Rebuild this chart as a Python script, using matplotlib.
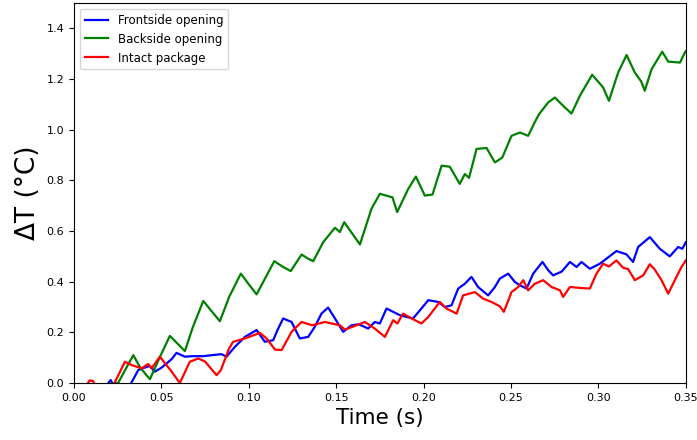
"""
plot.py - temperature rise of the three package variants over the first 0.35 s.

Values are read off the original figure (vertices of the traces).
Output: out.png (697x440)
"""

import matplotlib
matplotlib.use("Agg")
import matplotlib.pyplot as plt  # noqa: E402

# === DATA ===
FRONT_T = [0.0, 0.0187, 0.021, 0.0235, 0.032, 0.0368, 0.040, 0.0435, 0.0463, 0.050,
           0.053, 0.056, 0.0587, 0.0635, 0.068, 0.074, 0.079, 0.0844, 0.0873, 0.0921,
           0.0978, 0.1045, 0.1092, 0.114, 0.1165, 0.1197, 0.1245, 0.1292, 0.134, 0.1378,
           0.1416, 0.1454, 0.1493, 0.154, 0.1588, 0.163, 0.1683, 0.1721, 0.1750, 0.1788,
           0.1826, 0.1864, 0.1902, 0.194, 0.1979, 0.2027, 0.2084, 0.2122, 0.216, 0.2198,
           0.2236, 0.2274, 0.2312, 0.2369, 0.2408, 0.2436, 0.2484, 0.2522, 0.255, 0.2589,
           0.2627, 0.268, 0.2713, 0.2741, 0.279, 0.2837, 0.2875, 0.2903, 0.2951, 0.3008,
           0.3046, 0.3103, 0.316, 0.3198, 0.3227, 0.3294, 0.3351, 0.3408, 0.3456, 0.348,
           0.35]
FRONT_DT = [-0.03, -0.01, 0.012, -0.02, -0.01, 0.051, 0.06, 0.067, 0.045, 0.06,
            0.077, 0.095, 0.119, 0.104, 0.106, 0.106, 0.11, 0.114, 0.104, 0.143,
            0.182, 0.209, 0.163, 0.169, 0.21, 0.255, 0.241, 0.176, 0.182, 0.222,
            0.274, 0.298, 0.255, 0.202, 0.228, 0.232, 0.215, 0.241, 0.235, 0.294,
            0.281, 0.268, 0.261, 0.255, 0.287, 0.327, 0.32, 0.3, 0.307, 0.373,
            0.392, 0.419, 0.379, 0.346, 0.379, 0.412, 0.432, 0.399, 0.386, 0.373,
            0.432, 0.478, 0.445, 0.425, 0.44, 0.478, 0.458, 0.478, 0.451, 0.471,
            0.491, 0.521, 0.508, 0.478, 0.537, 0.576, 0.53, 0.5, 0.537, 0.53,
            0.556]

BACK_T = [0.0, 0.0253, 0.030, 0.034, 0.038, 0.0435, 0.049, 0.0549, 0.0635, 0.068,
          0.074, 0.078, 0.0835, 0.0888, 0.0955, 0.1, 0.1045, 0.1146, 0.1197, 0.124,
          0.1302, 0.134, 0.1369, 0.1426, 0.1493, 0.1521, 0.1546, 0.1636, 0.1702, 0.175,
          0.1822, 0.1849, 0.1912, 0.1956, 0.2007, 0.2051, 0.2103, 0.215, 0.2207, 0.2236,
          0.226, 0.2303, 0.236, 0.2408, 0.245, 0.2503, 0.2551, 0.2598, 0.2636, 0.2661,
          0.2713, 0.2751, 0.2808, 0.2846, 0.2894, 0.2964, 0.3027, 0.306, 0.3113, 0.3161,
          0.3208, 0.3245, 0.3265, 0.3304, 0.3365, 0.3399, 0.3466, 0.3494, 0.35]
BACK_DT = [-0.02, 0.0, 0.06, 0.11, 0.06, 0.015, 0.1, 0.186, 0.126, 0.22,
           0.324, 0.29, 0.244, 0.34, 0.432, 0.39, 0.35, 0.481, 0.458, 0.442,
           0.507, 0.491, 0.481, 0.556, 0.613, 0.596, 0.635, 0.547, 0.688, 0.747,
           0.733, 0.675, 0.766, 0.815, 0.74, 0.744, 0.858, 0.854, 0.786, 0.825,
           0.81, 0.924, 0.928, 0.871, 0.89, 0.976, 0.989, 0.976, 1.03, 1.062,
           1.108, 1.127, 1.088, 1.064, 1.134, 1.217, 1.167, 1.114, 1.226, 1.295,
           1.226, 1.19, 1.154, 1.239, 1.308, 1.269, 1.265, 1.304, 1.31]

INTACT_T = [0.0, 0.007, 0.009, 0.011, 0.013, 0.0225, 0.0292, 0.033, 0.0387, 0.0425,
            0.0444, 0.0492, 0.0559, 0.0606, 0.0663, 0.0711, 0.075, 0.0816, 0.084, 0.0888,
            0.0911, 0.0978, 0.1064, 0.1102, 0.115, 0.1188, 0.1245, 0.1302, 0.1363, 0.1435,
            0.1521, 0.155, 0.1617, 0.1664, 0.1721, 0.1779, 0.1826, 0.185, 0.1883, 0.1931,
            0.1988, 0.2027, 0.2093, 0.2131, 0.2189, 0.2226, 0.2293, 0.2341, 0.2389, 0.2436,
            0.2459, 0.2503, 0.2541, 0.257, 0.2598, 0.2636, 0.2684, 0.2732, 0.278, 0.2798,
            0.2837, 0.29, 0.2951, 0.2989, 0.3027, 0.306, 0.3103, 0.3141, 0.317, 0.3208,
            0.3256, 0.3294, 0.332, 0.3361, 0.3399, 0.3437, 0.3475, 0.35]
INTACT_DT = [-0.02, -0.01, 0.01, 0.008, -0.02, -0.01, 0.084, 0.071, 0.058, 0.075,
             0.058, 0.104, 0.045, 0.0, 0.084, 0.097, 0.085, 0.031, 0.05, 0.137,
             0.163, 0.176, 0.198, 0.176, 0.132, 0.13, 0.202, 0.241, 0.228, 0.241,
             0.228, 0.211, 0.228, 0.241, 0.215, 0.182, 0.248, 0.235, 0.274, 0.255,
             0.235, 0.261, 0.32, 0.294, 0.274, 0.346, 0.359, 0.333, 0.32, 0.303,
             0.281, 0.359, 0.379, 0.406, 0.366, 0.392, 0.406, 0.379, 0.366, 0.34,
             0.379, 0.375, 0.373, 0.432, 0.471, 0.46, 0.484, 0.455, 0.45, 0.406,
             0.425, 0.469, 0.45, 0.406, 0.353, 0.406, 0.458, 0.484]

SERIES = [
    ("Frontside opening", FRONT_T, FRONT_DT, "blue"),
    ("Backside opening", BACK_T, BACK_DT, "green"),
    ("Intact package", INTACT_T, INTACT_DT, "red"),
]


def main():
    fig = plt.figure(figsize=(6.97, 4.40), dpi=100)
    ax = fig.add_axes([0.106, 0.1295, 0.878, 0.8635])

    for label, t, dt, color in SERIES:
        ax.plot(t, dt, color=color, linewidth=1.6, label=label)

    ax.set_xlim(0, 0.35)
    ax.set_ylim(0, 1.5)
    ax.set_xticks([0.0, 0.05, 0.10, 0.15, 0.20, 0.25, 0.30, 0.35])
    ax.set_xticklabels(["0.00", "0.05", "0.10", "0.15", "0.20", "0.25", "0.30", "0.35"])
    ax.set_yticks([0.0, 0.2, 0.4, 0.6, 0.8, 1.0, 1.2, 1.4])
    ax.tick_params(labelsize=8)
    ax.set_xlabel("Time (s)", fontsize=15.5)
    ax.set_ylabel("\u0394T (\u00b0C)", fontsize=19)
    ax.legend(loc="upper left", fontsize=8.5)

    fig.savefig("out.png", dpi=100)
    plt.close(fig)


if __name__ == "__main__":
    main()
